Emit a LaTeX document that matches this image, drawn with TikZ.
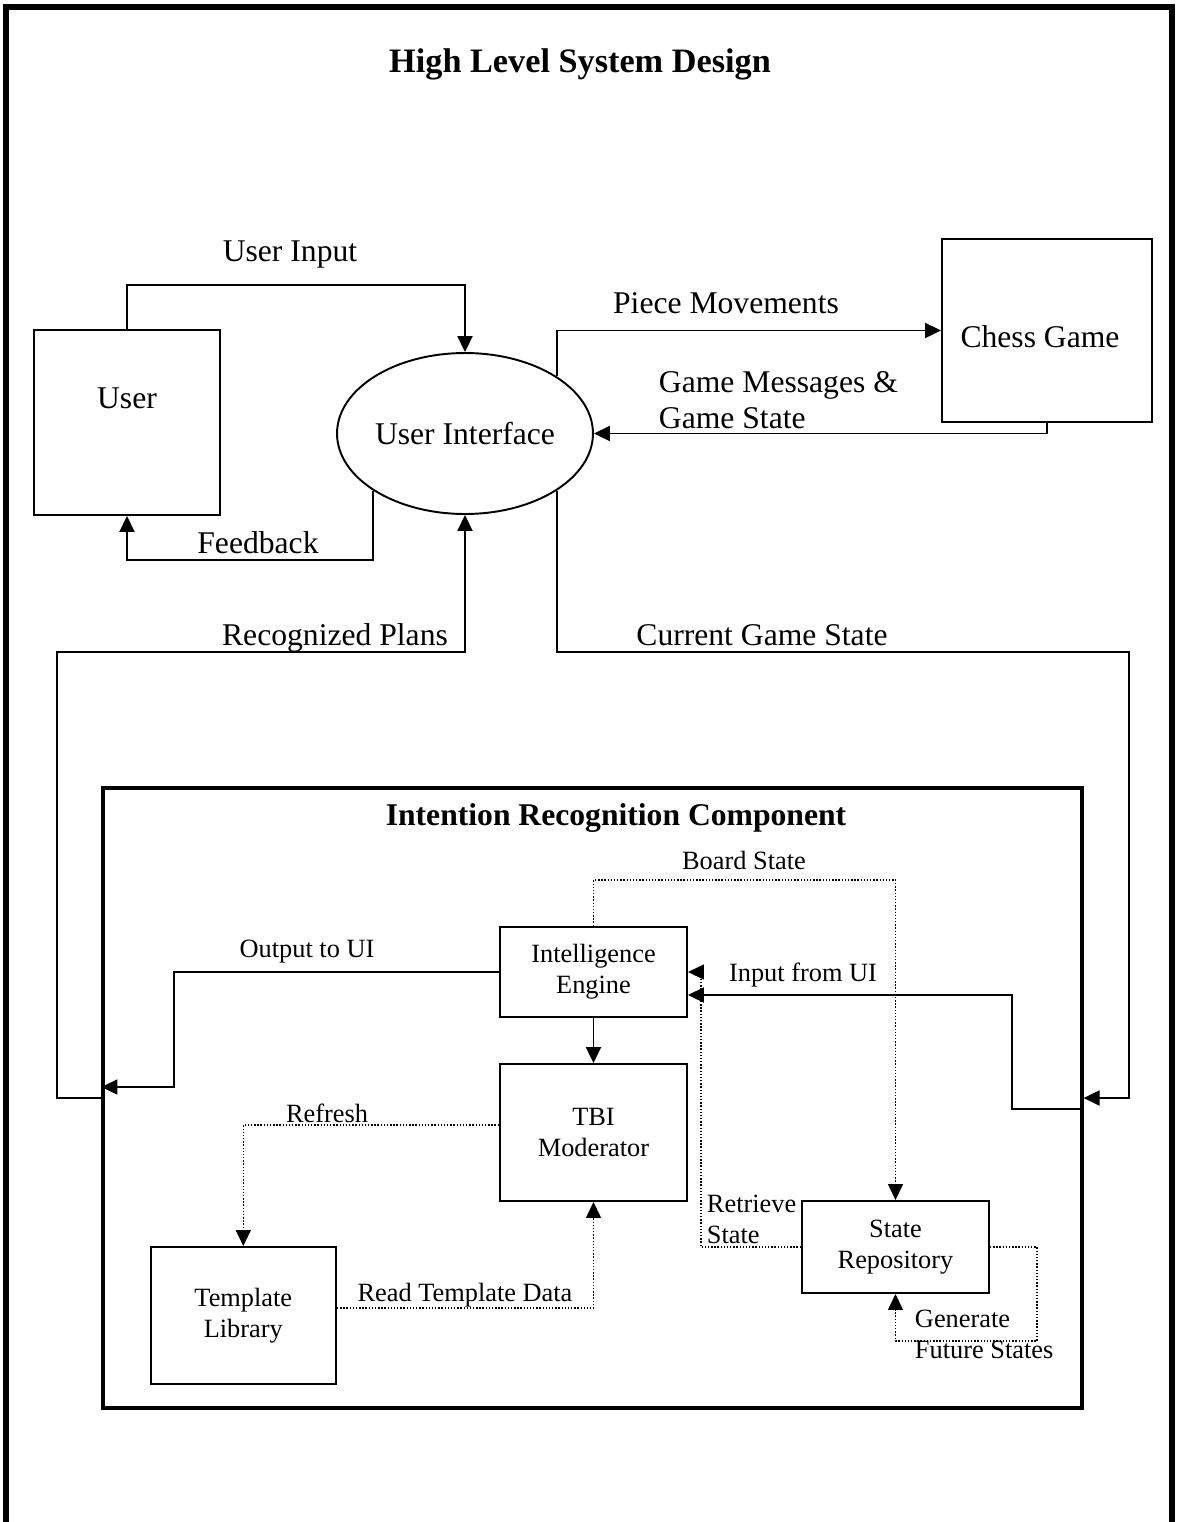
\documentclass[tikz,border=0pt]{standalone}
\usepackage{fontspec}
\setmainfont{Liberation Serif}
\usetikzlibrary{
        arrows.meta,
        positioning,
        shapes.geometric
    }
\tikzset{>={Triangle[length=0.32cm,width=0.3cm]}}
\tikzset{box/.style={draw,line width=1.1pt,align=center,inner sep=0pt}}
\tikzset{ibox/.style={box,minimum width=3.74cm,font=\fontsize{15}{17.6}\selectfont}}
\tikzset{small/.style={font=\fontsize{15}{17.6}\selectfont}}
\tikzset{dl/.style={densely dotted,line width=0.8pt}}

\begin{document}
\begin{tikzpicture}[x=0.02cm,y=-0.02cm,line width=1.1pt,font=\fontsize{18}{20.5}\selectfont]
                \useasboundingbox (0,0) rectangle (1178,1522);
                \draw[line width=3.4pt] (6,1522) -- (6,7) -- (1172,7) -- (1172,1522);
                \node[font=\bfseries\fontsize{19.5}{22}\selectfont] (title) at (580,64) {High Level System Design};
                % outer part
                \node[box,minimum width=3.72cm,minimum height=3.7cm] (user) at (127,422.5) {};
                \node (usertxt) at (127,398) {User};
                \node[draw,ellipse,inner sep=0pt,minimum width=5.12cm,minimum height=3.22cm] (ui) at (465,433.5) {User Interface};
                \node[box,minimum width=4.2cm,minimum height=3.66cm] (chess) at (1047,330.5) {};
                \node (chesstxt) at (1040,337) {Chess Game};
                \node[draw,line width=1.9pt,minimum width=19.58cm,minimum height=12.4cm] (irc) at (592.5,1098) {};
                \node[font=\bfseries\fontsize{18}{20}\selectfont] (irctitle) at (616,818) {Intention Recognition Component};
                % inner part
                \node[ibox,minimum height=1.8cm] (ie) at (593.5,972) {Intelligence\\Engine};
                \node[ibox,minimum height=2.74cm] (tbi) at (593.5,1132.5) {TBI\\Moderator};
                \node[ibox,minimum width=3.71cm,minimum height=2.74cm] (tl) at (243.3,1315.5) {Template\\Library};
                \node[ibox,minimum height=1.84cm] (sr) at (895.5,1247) {State\\Repository};
                % connectors
                \draw[->] (user.north) |- (465,285) -- (ui.north);
                \draw[->] (ui.212) |- (127,560) -- (user.south);
                \draw[->] (ui.32) |- (chess.west);
                \draw[->] (chess.south) |- (ui.east);
                \draw[->] (ui.-32) |- (1129,652) |- (irc.east);
                \draw[->] (irc.west) -| (57,652) -| (ui.south);
                \draw[->] (ie) -- (tbi);
                \draw[->] (ie.west) -| (174,1087) -- ([yshift=0.22cm]irc.west);
                \draw[->] ([yshift=-0.22cm]irc.east) -| (1012,995) -- ([yshift=-0.46cm]ie.east);
                \draw[dl,->] (ie.north) -- ++(0,-46) -| (sr.north);
                \draw[dl,->] ([yshift=0.15cm]tbi.west) -| (tl.north);
                \draw[dl,->] ([yshift=0.15cm]tl.east) -| (tbi.south);
                \draw[dl,->] (sr.west) -| ([xshift=0.26cm]ie.east) -- (ie.east);
                \draw[dl,->] (sr.east) -| (1037,1341) -| (sr.south);
                % labels
                \node (lui) at (290,255) {User Input};
                \node (lfb) at (258,543) {Feedback};
                \node (lrp) at (335,638) {Recognized Plans};
                \node (lpm) at (726,303) {Piece Movements};
                \node[anchor=west,align=left,inner sep=0pt] (lgm) at (658,400) {Game Messages \&\\Game State};
                \node (lcgs) at (762,635) {Current Game State};
                \node[small] (lbs) at (744,860) {Board State};
                \node[small] (lin) at (803,975) {Input from UI};
                \node[small] (lout) at (307,952) {Output to UI};
                \node[small] (lref) at (327,1113) {Refresh};
                \node[small] (lrtd) at (465,1295) {Read Template Data};
                \node[small,anchor=west,align=left,inner sep=0pt] (lrs) at (706,1219) {Retrieve\\State};
                \node[small,anchor=west,align=left,inner sep=0pt] (lgfs) at (914,1334) {Generate\\Future States};
\end{tikzpicture}
\end{document}
